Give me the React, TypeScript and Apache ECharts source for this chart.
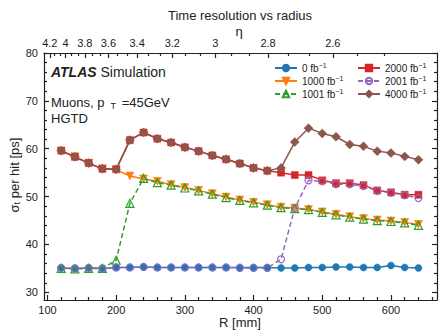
import React, { useEffect, useRef } from 'react';
import * as echarts from 'echarts';

// ---- data ----
const radius = [120, 140, 160, 180, 200, 220, 240, 260, 280, 300, 320, 340, 360, 380, 400, 420, 440, 460, 480, 500, 520, 540, 560, 580, 600, 620, 640];
const lumi0 = [35.1, 35.0, 35.1, 35.0, 35.2, 35.2, 35.3, 35.2, 35.2, 35.2, 35.2, 35.2, 35.2, 35.2, 35.2, 35.2, 35.1, 35.1, 35.2, 35.2, 35.3, 35.3, 35.2, 35.2, 35.6, 35.2, 35.1];
const lumi1000 = [59.5, 58.3, 57.0, 55.8, 55.6, 54.3, 53.7, 53.2, 52.5, 51.9, 51.3, 50.6, 49.9, 49.3, 48.8, 48.3, 47.8, 47.6, 47.3, 46.8, 46.3, 45.8, 45.4, 45.1, 44.9, 44.6, 44.2];
const lumi1001 = [35.0, 34.9, 35.0, 35.0, 36.7, 48.6, 53.8, 52.9, 52.4, 51.8, 51.2, 50.5, 49.8, 49.2, 48.7, 48.2, 47.7, 47.5, 47.3, 46.7, 46.2, 45.7, 45.3, 45.0, 44.8, 44.5, 44.0];
const lumi2000 = [59.6, 58.3, 57.0, 55.8, 55.7, 61.8, 63.4, 62.1, 61.3, 60.3, 59.5, 58.6, 57.8, 56.9, 56.0, 55.4, 55.0, 54.5, 54.5, 53.4, 52.8, 52.8, 52.4, 51.3, 50.9, 50.4, 50.4];
const lumi2001 = [35.1, 35.0, 35.1, 35.0, 35.2, 35.2, 35.3, 35.2, 35.2, 35.2, 35.2, 35.2, 35.2, 35.1, 35.1, 35.1, 36.9, 47.6, 53.4, 53.2, 52.6, 52.6, 52.2, 51.2, 50.8, 50.3, 49.7];
const lumi4000 = [59.6, 58.3, 57.0, 55.8, 55.7, 61.8, 63.4, 62.1, 61.3, 60.3, 59.5, 58.6, 57.8, 56.9, 56.0, 55.4, 56.0, 61.4, 64.3, 63.2, 62.5, 60.9, 60.5, 59.5, 59.1, 58.4, 57.7];

const seriesNames = ['0 fb-1', '1000 fb-1', '1001 fb-1', '2000 fb-1', '2001 fb-1', '4000 fb-1'];

const xTicks = [100, 200, 300, 400, 500, 600];
const yTicks = [30, 40, 50, 60, 70, 80];
const etaTicks = [4.2, 4.0, 3.8, 3.6, 3.4, 3.2, 3.0, 2.8, 2.6];

const X_MIN = 95;
const X_MAX = 667;
const Y_MIN = 28.4;
const Y_MAX = 80;
const Z_HGTD = 3450; // mm, used to convert eta to radius

const etaToR = (eta: number) => Z_HGTD * Math.tan(2 * Math.atan(Math.exp(-eta)));
const rToEta = (r: number) => -Math.log(Math.tan(Math.atan(r / Z_HGTD) / 2));

const xMinor: number[] = [];
for (let v = 100; v <= 660; v += 20) if (v % 100 !== 0) xMinor.push(v);
const yMinor: number[] = [];
for (let v = 30; v <= 80; v += 2) if (v % 10 !== 0) yMinor.push(v);
const etaMajorR = etaTicks.map(etaToR);
const etaMinorR: number[] = [];
for (let i = 0; i <= 30; i++) {
  if (i % 3 === 0) continue;
  const r = etaToR(4.2 - (i * 0.2) / 3);
  if (r > X_MIN && r < X_MAX) etaMinorR.push(r);
}

const FONT = 'Liberation Sans, Arial, sans-serif';
const INK = '#222';

function buildOption() {
  const lineStyle = { color: INK, width: 1.2 };
  const baseAxis = {
    type: 'value' as const,
    splitLine: { show: false },
  };
  const xAxes = [
    {
      ...baseAxis, min: X_MIN, max: X_MAX, position: 'bottom',
      axisLine: { show: true, onZero: false, lineStyle },
      axisTick: { show: true, inside: true, length: 5, customValues: xTicks, lineStyle },
      axisLabel: { show: true, customValues: xTicks, margin: 4, fontSize: 11, color: INK, fontFamily: FONT },
    },
    {
      ...baseAxis, min: X_MIN, max: X_MAX, position: 'bottom',
      axisLine: { show: false },
      axisTick: { show: true, inside: true, length: 3, customValues: xMinor, lineStyle },
      axisLabel: { show: false },
    },
    {
      ...baseAxis, min: X_MIN, max: X_MAX, position: 'top',
      axisLine: { show: true, onZero: false, lineStyle },
      axisTick: { show: true, inside: true, length: 5, customValues: etaMajorR, lineStyle },
      axisLabel: {
        show: true, customValues: etaMajorR, margin: 5, fontSize: 11, color: INK, fontFamily: FONT,
        formatter: (v: number) => String(parseFloat(rToEta(v).toFixed(1))),
      },
    },
    {
      ...baseAxis, min: X_MIN, max: X_MAX, position: 'top',
      axisLine: { show: false },
      axisTick: { show: true, inside: true, length: 3, customValues: etaMinorR, lineStyle },
      axisLabel: { show: false },
    },
  ];
  const yAxes = [
    {
      ...baseAxis, min: Y_MIN, max: Y_MAX, position: 'left',
      axisLine: { show: true, onZero: false, lineStyle },
      axisTick: { show: true, inside: true, length: 5, customValues: yTicks, lineStyle },
      axisLabel: { show: true, customValues: yTicks, margin: 6, fontSize: 11, color: INK, fontFamily: FONT },
    },
    {
      ...baseAxis, min: Y_MIN, max: Y_MAX, position: 'left',
      axisLine: { show: false },
      axisTick: { show: true, inside: true, length: 3, customValues: yMinor, lineStyle },
      axisLabel: { show: false },
    },
    {
      ...baseAxis, min: Y_MIN, max: Y_MAX, position: 'right',
      axisLine: { show: true, onZero: false, lineStyle },
      axisTick: { show: true, inside: true, length: 5, customValues: yTicks, lineStyle },
      axisLabel: { show: false },
    },
    {
      ...baseAxis, min: Y_MIN, max: Y_MAX, position: 'right',
      axisLine: { show: false },
      axisTick: { show: true, inside: true, length: 3, customValues: yMinor, lineStyle },
      axisLabel: { show: false },
    },
  ];

  const values = [lumi0, lumi1000, lumi1001, lumi2000, lumi2001, lumi4000];
  const colors = ['#1f77b4', '#ff7f0e', '#2ca02c', '#d62728', '#9467bd', '#8c564b'];
  const symbols = ['circle', 'triangle', 'triangle', 'rect', 'circle', 'diamond'];
  const hollow = [false, false, true, false, true, false];
  const sizes = [7, 8, 8, 7, 7, 9];
  const rotates = [0, 180, 0, 0, 0, 0];
  const dashed = [false, false, true, false, true, false];

  const series = values.map((vals, i) => ({
    type: 'line',
    name: seriesNames[i],
    xAxisIndex: 0,
    yAxisIndex: 0,
    data: radius.map((r, j) => [r, vals[j]]),
    symbol: symbols[i],
    symbolSize: sizes[i],
    symbolRotate: rotates[i],
    showAllSymbol: true,
    color: colors[i],
    itemStyle: hollow[i]
      ? { color: 'rgba(255,255,255,0)', borderColor: colors[i], borderWidth: 1.2 }
      : { color: colors[i], borderColor: colors[i], borderWidth: 0.5 },
    lineStyle: { color: colors[i], width: 1.5, type: dashed[i] ? [5, 3] : 'solid' },
    emphasis: { disabled: true },
  }));

  const legendRich = {
    n: { fontSize: 10, color: INK, fontFamily: FONT },
    s: { fontSize: 7, color: INK, fontFamily: FONT, verticalAlign: 'top', padding: [0, 0, 5, 0] },
  };
  const legendFormatter = (name: string) => {
    const base = name.replace('-1', '');
    return `{n|${base}}{s|−1}`;
  };
  const legendBase = {
    orient: 'vertical',
    top: 62,
    itemWidth: 22,
    itemHeight: 8,
    itemGap: 2,
    padding: 0,
    formatter: legendFormatter,
    textStyle: { rich: legendRich, padding: [0, 0, 0, 0] },
    selectedMode: false,
  };

  return {
    animation: false,
    backgroundColor: '#ffffff',
    textStyle: { fontFamily: FONT },
    grid: { left: 44, right: 3, top: 53, bottom: 31, containLabel: false },
    xAxis: xAxes,
    yAxis: yAxes,
    legend: [
      { ...legendBase, left: 274, data: seriesNames.slice(0, 3) },
      { ...legendBase, left: 357, data: seriesNames.slice(3, 6) },
    ],
    series,
    graphic: [
      {
        type: 'text', x: 240, y: 15,
        style: { text: 'Time resolution vs radius', fontSize: 13, fill: INK, fontFamily: FONT, align: 'center', verticalAlign: 'middle' },
      },
      {
        type: 'text', x: 239, y: 31,
        style: { text: 'η', fontSize: 13, fill: INK, fontFamily: FONT, align: 'center', verticalAlign: 'middle' },
      },
      {
        type: 'text', x: 240, y: 322,
        style: { text: 'R [mm]', fontSize: 13, fill: INK, fontFamily: FONT, align: 'center', verticalAlign: 'middle' },
      },
      {
        type: 'text', x: 14, y: 175, rotation: Math.PI / 2,
        style: {
          text: '{a|σ}{b|t}{a| per hit [ps]}',
          align: 'center', verticalAlign: 'middle', fill: INK, fontFamily: FONT,
          rich: {
            a: { fontSize: 13, fill: INK, fontFamily: FONT },
            b: { fontSize: 9, fill: INK, fontFamily: FONT, verticalAlign: 'bottom', padding: [6, 0, 0, 0] },
          },
        },
      },
      {
        type: 'text', x: 51, y: 72,
        style: {
          text: '{a|ATLAS}{b| Simulation}',
          verticalAlign: 'middle', fill: INK, fontFamily: FONT,
          rich: {
            a: { fontSize: 14, fontWeight: 'bold', fontStyle: 'italic', fill: INK, fontFamily: FONT },
            b: { fontSize: 14, fill: INK, fontFamily: FONT },
          },
        },
      },
      {
        type: 'text', x: 51, y: 102,
        style: {
          text: '{a|Muons, p }{b| T}{a| =45GeV}',
          verticalAlign: 'middle', fill: INK, fontFamily: FONT,
          rich: {
            a: { fontSize: 13, fill: INK, fontFamily: FONT },
            b: { fontSize: 9, fill: INK, fontFamily: FONT, verticalAlign: 'bottom', padding: [7, 2, 0, 0] },
          },
        },
      },
      {
        type: 'text', x: 51, y: 118,
        style: { text: 'HGTD', fontSize: 13, fill: INK, fontFamily: FONT, verticalAlign: 'middle' },
      },
    ],
  };
}

export default function App() {
  const ref = useRef<HTMLDivElement>(null);
  useEffect(() => {
    if (!ref.current) return;
    const chart = echarts.init(ref.current, null, { renderer: 'svg' });
    chart.setOption(buildOption() as any);
    return () => chart.dispose();
  }, []);
  return <div ref={ref} style={{ position: 'fixed', left: 0, top: 0, width: 440, height: 331 }} />;
}
